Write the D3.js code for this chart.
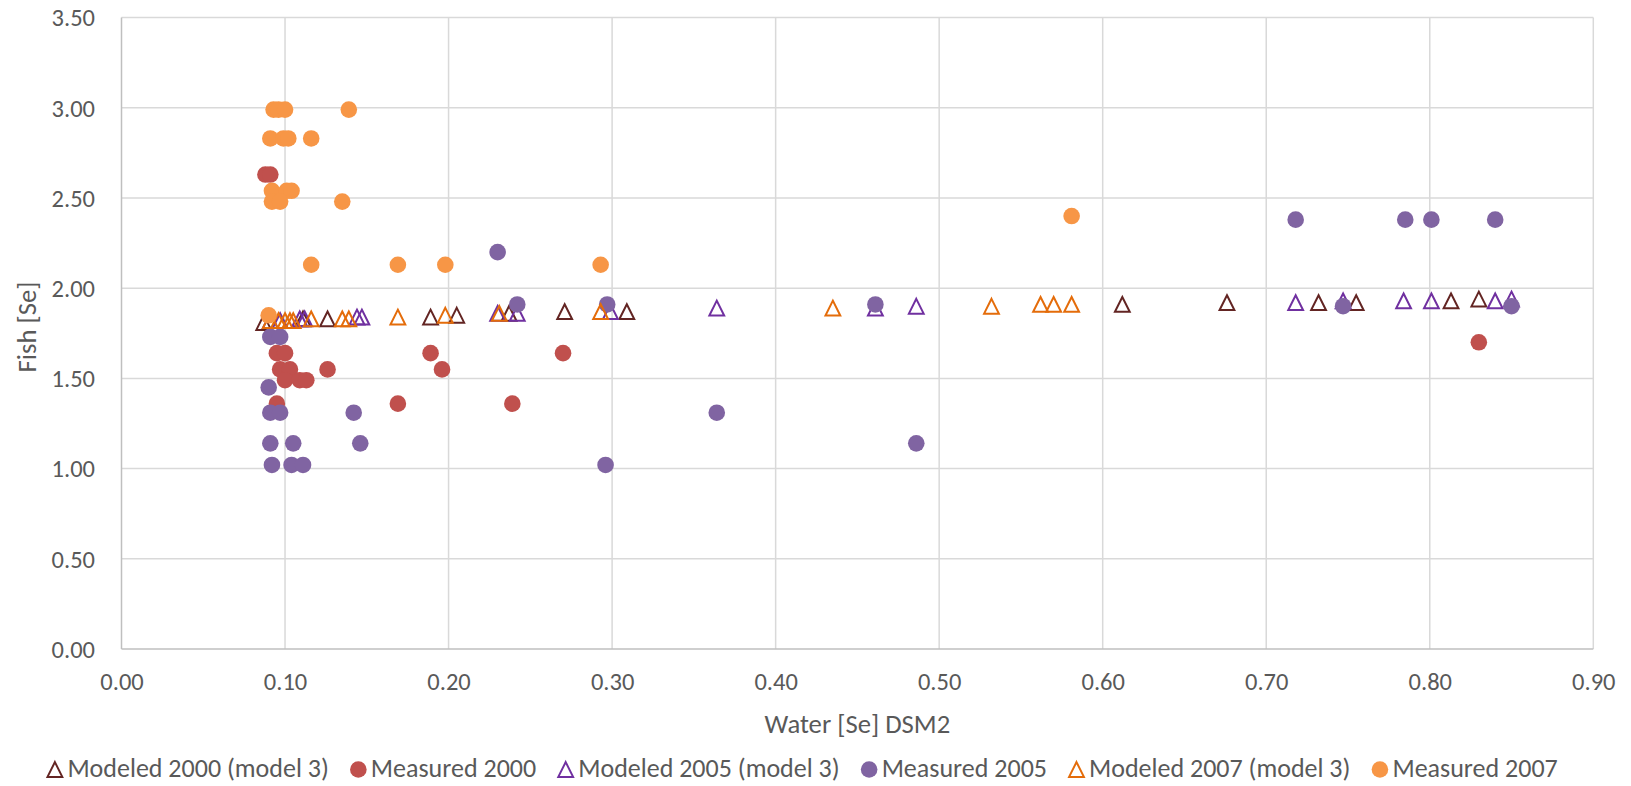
<!DOCTYPE html>
<html>
<head>
<meta charset="utf-8">
<script src="https://cdn.jsdelivr.net/npm/d3@7/dist/d3.min.js"></script>
<style>
  html, body { margin: 0; padding: 0; background: #fff; }
  svg { display: block; }
  text { font-family: Carlito, Calibri, Lato, "Open Sans", sans-serif; fill: #595959; }
</style>
</head>
<body>
<svg id="chart" width="1631" height="786"></svg>
<script>
// ---- Data ----
const xTicks = [0, 0.1, 0.2, 0.3, 0.4, 0.5, 0.6, 0.7, 0.8, 0.9];
const yTicks = [0, 0.5, 1, 1.5, 2, 2.5, 3, 3.5];
const xTitle = "Water [Se] DSM2";
const yTitle = "Fish [Se]";

const modeled2000 = [
  [0.087,1.81],[0.111,1.83],[0.126,1.83],[0.189,1.84],[0.205,1.85],[0.237,1.86],
  [0.271,1.87],[0.309,1.87],[0.612,1.91],[0.676,1.92],[0.732,1.92],[0.755,1.92],
  [0.813,1.93],[0.830,1.94]
];
const measured2000 = [
  [0.088,2.63],[0.091,2.63],
  [0.095,1.64],[0.100,1.64],[0.189,1.64],[0.270,1.64],
  [0.097,1.55],[0.103,1.55],[0.126,1.55],[0.196,1.55],
  [0.100,1.49],[0.109,1.49],[0.113,1.49],
  [0.095,1.36],[0.169,1.36],[0.239,1.36],
  [0.830,1.70]
];
const modeled2005 = [
  [0.091,1.82],[0.097,1.82],[0.109,1.83],[0.112,1.83],[0.144,1.84],[0.147,1.84],
  [0.230,1.86],[0.242,1.86],[0.299,1.87],[0.364,1.89],[0.461,1.89],[0.486,1.90],
  [0.718,1.92],[0.747,1.93],[0.784,1.93],[0.801,1.93],[0.840,1.93],[0.850,1.94]
];
const measured2005 = [
  [0.091,1.73],[0.097,1.73],
  [0.090,1.45],
  [0.091,1.31],[0.097,1.31],[0.142,1.31],[0.364,1.31],
  [0.091,1.14],[0.105,1.14],[0.146,1.14],[0.486,1.14],
  [0.092,1.02],[0.104,1.02],[0.111,1.02],[0.296,1.02],
  [0.230,2.20],
  [0.242,1.91],[0.297,1.91],[0.461,1.91],
  [0.718,2.38],[0.785,2.38],[0.801,2.38],[0.840,2.38],
  [0.747,1.90],[0.850,1.90]
];
const modeled2007 = [
  [0.091,1.82],[0.096,1.82],[0.100,1.82],[0.103,1.82],[0.105,1.82],[0.116,1.83],
  [0.135,1.83],[0.139,1.83],[0.169,1.84],[0.198,1.85],[0.231,1.86],[0.293,1.87],
  [0.435,1.89],[0.532,1.90],[0.562,1.91],[0.570,1.91],[0.581,1.91]
];
const measured2007 = [
  [0.093,2.99],[0.096,2.99],[0.100,2.99],[0.139,2.99],
  [0.091,2.83],[0.099,2.83],[0.102,2.83],[0.116,2.83],
  [0.092,2.54],[0.101,2.54],[0.104,2.54],
  [0.092,2.48],[0.097,2.48],[0.135,2.48],
  [0.116,2.13],[0.169,2.13],[0.198,2.13],[0.293,2.13],
  [0.090,1.85],
  [0.581,2.40]
];

const seriesNames = ["Modeled 2000 (model 3)","Measured 2000","Modeled 2005 (model 3)","Measured 2005","Modeled 2007 (model 3)","Measured 2007"];
const seriesData = [modeled2000, measured2000, modeled2005, measured2005, modeled2007, measured2007];
const seriesKind = ["tri","dot","tri","dot","tri","dot"];
const seriesColor = ["#632523","#C0504D","#7030A0","#8064A2","#E46C0A","#F79646"];

// ---- Layout ----
const svg = d3.select("#chart");
const mLeft = 121.5, mRight = 1593.3, mTop = 17.6, mBottom = 649;
const x = d3.scaleLinear().domain([0, 0.9]).range([mLeft, mRight]);
const y = d3.scaleLinear().domain([0, 3.5]).range([mBottom, mTop]);

const tickFont = 24.5, legendFont = 26, titleFont = 26.7;

// gridlines
const grid = svg.append("g");
grid.selectAll("line.v").data(xTicks.filter(d => d > 0)).join("line").attr("class", "v")
  .attr("x1", d => x(d)).attr("x2", d => x(d)).attr("y1", mTop).attr("y2", mBottom)
  .attr("stroke", "#d9d9d9").attr("stroke-width", 1.5);
grid.selectAll("line.h").data(yTicks.filter(d => d > 0)).join("line").attr("class", "h")
  .attr("x1", mLeft).attr("x2", mRight).attr("y1", d => y(d)).attr("y2", d => y(d))
  .attr("stroke", "#d9d9d9").attr("stroke-width", 1.5);

// axis lines
svg.append("line").attr("x1", mLeft).attr("x2", mLeft).attr("y1", mTop).attr("y2", mBottom)
  .attr("stroke", "#bfbfbf").attr("stroke-width", 1.5);
svg.append("line").attr("x1", mLeft).attr("x2", mRight).attr("y1", mBottom).attr("y2", mBottom)
  .attr("stroke", "#bfbfbf").attr("stroke-width", 1.5);

// tick labels via d3 axes (domain/ticks hidden)
const xAxis = svg.append("g").attr("transform", `translate(0,${mBottom})`)
  .call(d3.axisBottom(x).tickValues(xTicks).tickFormat(d3.format(".2f")).tickSize(0).tickPadding(0));
xAxis.select(".domain").remove();
xAxis.selectAll("text").attr("y", 41).attr("dy", null)
  .style("font-size", tickFont + "px").attr("fill", "#595959")
  .style("font-family", "Carlito, Calibri, Lato, sans-serif");

const yAxis = svg.append("g").attr("transform", `translate(95,0)`)
  .call(d3.axisLeft(y).tickValues(yTicks).tickFormat(d3.format(".2f")).tickSize(0).tickPadding(0));
yAxis.select(".domain").remove();
yAxis.selectAll("text").attr("x", 0).attr("dy", "0.34em")
  .style("font-size", tickFont + "px").attr("fill", "#595959")
  .style("font-family", "Carlito, Calibri, Lato, sans-serif");

// axis titles
svg.append("text").attr("x", (mLeft + mRight) / 2).attr("y", 733)
  .attr("text-anchor", "middle").style("font-size", titleFont + "px").text(xTitle);
svg.append("text").attr("transform", `translate(36,327) rotate(-90)`)
  .attr("text-anchor", "middle").style("font-size", titleFont + "px").text(yTitle);

// markers
const triPath = (cx, cy, s) => `M${cx},${cy - s}L${cx + s},${cy + s}L${cx - s},${cy + s}Z`;
const plot = svg.append("g");
seriesData.forEach((data, i) => {
  const g = plot.append("g");
  if (seriesKind[i] === "dot") {
    g.selectAll("circle").data(data).join("circle")
      .attr("cx", d => x(d[0])).attr("cy", d => y(d[1])).attr("r", 8.3)
      .attr("fill", seriesColor[i]);
  } else {
    g.selectAll("path").data(data).join("path")
      .attr("d", d => triPath(x(d[0]), y(d[1]), 7.4))
      .attr("fill", "none").attr("stroke", seriesColor[i]).attr("stroke-width", 2)
      .attr("stroke-linejoin", "miter");
  }
});

// legend
const legend = svg.append("g");
let lx = 54.9;
const ly = 769.5;
seriesNames.forEach((name, i) => {
  if (seriesKind[i] === "dot") {
    legend.append("circle").attr("cx", lx).attr("cy", ly).attr("r", 8.3).attr("fill", seriesColor[i]);
  } else {
    legend.append("path").attr("d", triPath(lx, ly, 7.4))
      .attr("fill", "none").attr("stroke", seriesColor[i]).attr("stroke-width", 2);
  }
  const t = legend.append("text").attr("x", lx + 12.5).attr("y", 777)
    .style("font-size", legendFont + "px").text(name);
  const w = t.node().getComputedTextLength();
  lx = lx + 12.5 + w + 29.5;
});
</script>
</body>
</html>
